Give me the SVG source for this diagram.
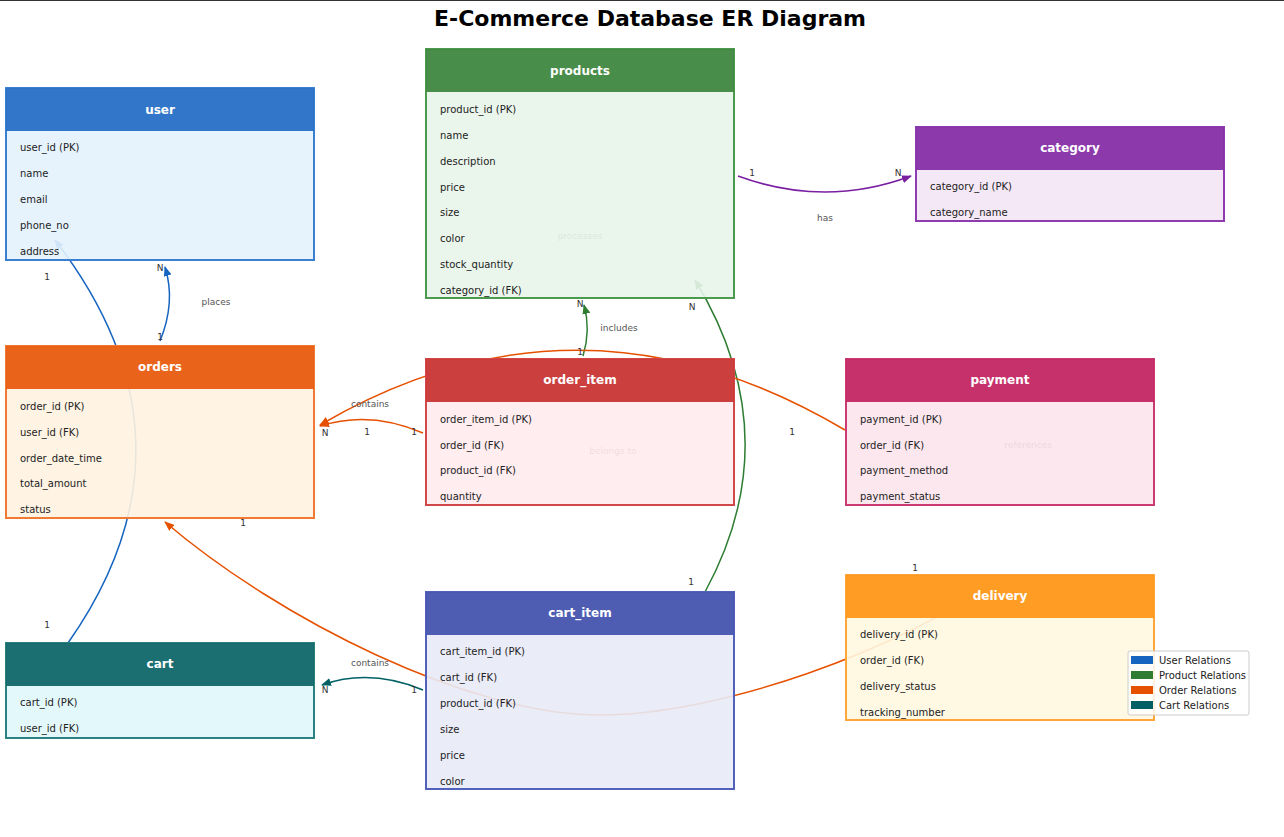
<svg xmlns="http://www.w3.org/2000/svg" width="1284" height="837" viewBox="0 0 1284 837">
<style>
text{font-family:"DejaVu Sans","Liberation Sans",sans-serif}
.title{font-size:22px;font-weight:bold;fill:#000;text-anchor:middle}
.hdr{font-size:12px;font-weight:bold;fill:#fff;text-anchor:middle}
.row{font-size:10px;fill:#222}
.lbl{font-size:9px;fill:#555;text-anchor:middle}
.card{font-size:9px;fill:#333;text-anchor:middle}
.leg{font-size:10px;fill:#222}
.c{fill:none;stroke-width:1.5}
.body{fill-opacity:0.9;stroke-width:2}
.head{fill-opacity:0.97}
</style>
<defs>
<marker id="aB" viewBox="0 0 10 8" refX="9" refY="4" markerWidth="10" markerHeight="8" markerUnits="userSpaceOnUse" orient="auto"><path d="M0,0 L10,4 L0,8 z" fill="#1565C0"/></marker>
<marker id="aG" viewBox="0 0 10 8" refX="9" refY="4" markerWidth="10" markerHeight="8" markerUnits="userSpaceOnUse" orient="auto"><path d="M0,0 L10,4 L0,8 z" fill="#2E7D32"/></marker>
<marker id="aO" viewBox="0 0 10 8" refX="9" refY="4" markerWidth="10" markerHeight="8" markerUnits="userSpaceOnUse" orient="auto"><path d="M0,0 L10,4 L0,8 z" fill="#E65100"/></marker>
<marker id="aT" viewBox="0 0 10 8" refX="9" refY="4" markerWidth="10" markerHeight="8" markerUnits="userSpaceOnUse" orient="auto"><path d="M0,0 L10,4 L0,8 z" fill="#006064"/></marker>
<marker id="aP" viewBox="0 0 10 8" refX="9" refY="4" markerWidth="10" markerHeight="8" markerUnits="userSpaceOnUse" orient="auto"><path d="M0,0 L10,4 L0,8 z" fill="#7B1FA2"/></marker>
</defs>
<rect width="1284" height="837" fill="#fff"/>
<line x1="0" y1="0.5" x2="1284" y2="0.5" stroke="#333" stroke-width="1"/>
<text class="title" x="650" y="26">E-Commerce Database ER Diagram</text>

<g id="connectors">
<path class="c" stroke="#1565C0" d="M160,341 Q176,302 165,267" marker-end="url(#aB)"/>
<path class="c" stroke="#1565C0" d="M68,643 Q210,441 55,240" marker-end="url(#aB)"/>
<path class="c" stroke="#7B1FA2" d="M738,176 Q825,208 911,176" marker-end="url(#aP)"/>
<path class="c" stroke="#2E7D32" d="M583,356 Q591,330 584,305" marker-end="url(#aG)"/>
<path class="c" stroke="#2E7D32" d="M705,592 Q790,436 695,280" marker-end="url(#aG)"/>
<path class="c" stroke="#E65100" d="M423,433 Q370,410 320,426" marker-end="url(#aO)"/>
<path class="c" stroke="#E65100" d="M845,430 Q580,273 320,425" marker-end="url(#aO)"/>
<path class="c" stroke="#E65100" d="M1000,578 C900,650 720,715 600,715 C470,715 280,620 165,522" marker-end="url(#aO)"/>
<path class="c" stroke="#006064" d="M423,690 Q370,668 322,685" marker-end="url(#aT)"/>
<text class="lbl" x="216" y="305">places</text>
<text class="lbl" x="825" y="221">has</text>
<text class="lbl" x="619" y="331">includes</text>
<text class="lbl" x="370" y="407">contains</text>
<text class="lbl" x="370" y="666">contains</text>
<text class="lbl" x="580" y="239">processes</text>
<text class="lbl" x="613" y="454">belongs to</text>
<text class="lbl" x="1028" y="448">references</text>
<text class="card" x="47" y="280">1</text>
<text class="card" x="47" y="628">1</text>
<text class="card" x="160" y="271">N</text>
<text class="card" x="160" y="340">1</text>
<text class="card" x="752" y="176">1</text>
<text class="card" x="898" y="176">N</text>
<text class="card" x="580" y="307">N</text>
<text class="card" x="580" y="355">1</text>
<text class="card" x="692" y="310">N</text>
<text class="card" x="691" y="585">1</text>
<text class="card" x="325" y="436">N</text>
<text class="card" x="367" y="435">1</text>
<text class="card" x="414" y="435">1</text>
<text class="card" x="792" y="435">1</text>
<text class="card" x="243" y="526">1</text>
<text class="card" x="915" y="571">1</text>
<text class="card" x="325" y="693">N</text>
<text class="card" x="414" y="693">1</text>
</g>

<g id="user">
<rect class="body" x="6" y="88" width="308" height="172" fill="#E3F2FD" stroke="#3A80D2"/>
<rect class="head" x="6" y="88" width="308" height="43" fill="#2A72C6"/>
<text class="hdr" x="160" y="114">user</text>
<text class="row" x="20" y="151">user_id (PK)</text>
<text class="row" x="20" y="177">name</text>
<text class="row" x="20" y="203">email</text>
<text class="row" x="20" y="229">phone_no</text>
<text class="row" x="20" y="255">address</text>
</g>

<g id="products">
<rect class="body" x="426" y="49" width="308" height="249" fill="#E8F5E9" stroke="#4C9A4E"/>
<rect class="head" x="426" y="49" width="308" height="43" fill="#428943"/>
<text class="hdr" x="580" y="75">products</text>
<text class="row" x="440" y="113">product_id (PK)</text>
<text class="row" x="440" y="139">name</text>
<text class="row" x="440" y="165">description</text>
<text class="row" x="440" y="191">price</text>
<text class="row" x="440" y="216">size</text>
<text class="row" x="440" y="242">color</text>
<text class="row" x="440" y="268">stock_quantity</text>
<text class="row" x="440" y="294">category_id (FK)</text>
</g>

<g id="category">
<rect class="body" x="916" y="127" width="308" height="94" fill="#F3E5F5" stroke="#8E3BAF"/>
<rect class="head" x="916" y="127" width="308" height="43" fill="#8733A8"/>
<text class="hdr" x="1070" y="152">category</text>
<text class="row" x="930" y="190">category_id (PK)</text>
<text class="row" x="930" y="216">category_name</text>
</g>

<g id="orders">
<rect class="body" x="6" y="346" width="308" height="172" fill="#FFF3E0" stroke="#F07A34"/>
<rect class="head" x="6" y="346" width="308" height="43" fill="#E85E15"/>
<text class="hdr" x="160" y="371">orders</text>
<text class="row" x="20" y="410">order_id (PK)</text>
<text class="row" x="20" y="436">user_id (FK)</text>
<text class="row" x="20" y="462">order_date_time</text>
<text class="row" x="20" y="487">total_amount</text>
<text class="row" x="20" y="513">status</text>
</g>

<g id="order_item">
<rect class="body" x="426" y="359" width="308" height="146" fill="#FFEBEE" stroke="#D24848"/>
<rect class="head" x="426" y="359" width="308" height="43" fill="#CA3939"/>
<text class="hdr" x="580" y="384">order_item</text>
<text class="row" x="440" y="423">order_item_id (PK)</text>
<text class="row" x="440" y="449">order_id (FK)</text>
<text class="row" x="440" y="474">product_id (FK)</text>
<text class="row" x="440" y="500">quantity</text>
</g>

<g id="payment">
<rect class="body" x="846" y="359" width="308" height="146" fill="#FCE4EC" stroke="#CB3A73"/>
<rect class="head" x="846" y="359" width="308" height="43" fill="#C42A66"/>
<text class="hdr" x="1000" y="384">payment</text>
<text class="row" x="860" y="423">payment_id (PK)</text>
<text class="row" x="860" y="449">order_id (FK)</text>
<text class="row" x="860" y="474">payment_method</text>
<text class="row" x="860" y="500">payment_status</text>
</g>

<g id="cart">
<rect class="body" x="6" y="643" width="308" height="95" fill="#E0F7FA" stroke="#2E8181"/>
<rect class="head" x="6" y="643" width="308" height="43" fill="#156A6B"/>
<text class="hdr" x="160" y="668">cart</text>
<text class="row" x="20" y="706">cart_id (PK)</text>
<text class="row" x="20" y="732">user_id (FK)</text>
</g>

<g id="cart_item">
<rect class="body" x="426" y="592" width="308" height="197" fill="#E8EAF6" stroke="#5261BA"/>
<rect class="head" x="426" y="592" width="308" height="43" fill="#4858AF"/>
<text class="hdr" x="580" y="617">cart_item</text>
<text class="row" x="440" y="655">cart_item_id (PK)</text>
<text class="row" x="440" y="681">cart_id (FK)</text>
<text class="row" x="440" y="707">product_id (FK)</text>
<text class="row" x="440" y="733">size</text>
<text class="row" x="440" y="759">price</text>
<text class="row" x="440" y="785">color</text>
</g>

<g id="delivery">
<rect class="body" x="846" y="575" width="308" height="145" fill="#FFF8E1" stroke="#FFA53A"/>
<rect class="head" x="846" y="575" width="308" height="43" fill="#FE991D"/>
<text class="hdr" x="1000" y="600">delivery</text>
<text class="row" x="860" y="638">delivery_id (PK)</text>
<text class="row" x="860" y="664">order_id (FK)</text>
<text class="row" x="860" y="690">delivery_status</text>
<text class="row" x="860" y="716">tracking_number</text>
</g>

<g id="legend">
<rect x="1128" y="651" width="121" height="64" rx="2" fill="#fff" fill-opacity="0.85" stroke="#ccc" stroke-width="1"/>
<rect x="1131" y="656" width="22" height="8" fill="#1565C0"/>
<rect x="1131" y="671" width="22" height="8" fill="#2E7D32"/>
<rect x="1131" y="686" width="22" height="8" fill="#E65100"/>
<rect x="1131" y="701" width="22" height="8" fill="#006064"/>
<text class="leg" x="1159" y="664">User Relations</text>
<text class="leg" x="1159" y="679">Product Relations</text>
<text class="leg" x="1159" y="694">Order Relations</text>
<text class="leg" x="1159" y="709">Cart Relations</text>
</g>
</svg>
